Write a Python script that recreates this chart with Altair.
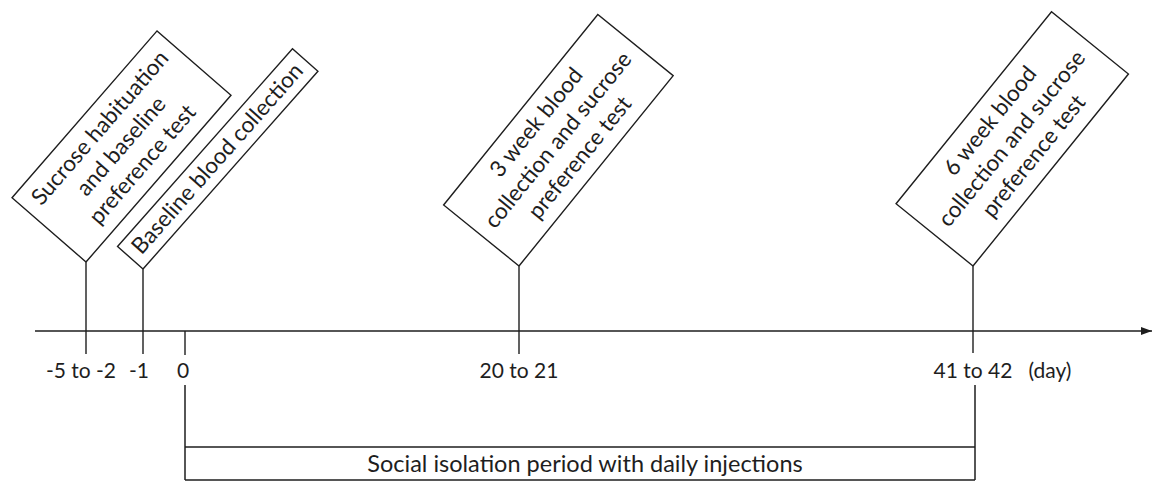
import math
import pandas as pd
import altair as alt

FONT = "Lato"
INK = "#1e1e1e"

# ---- event boxes (anchored at the bottom vertex, on top of each tick) ----
box_labels = [
    "Sucrose habituation\nand baseline\npreference test",
    "Baseline blood collection",
    "3 week blood\ncollection and sucrose\npreference test",
    "6 week blood\ncollection and sucrose\npreference test",
]
box_anchor_x = [86, 143, 519, 973]
box_anchor_y = [258, 265, 262, 262]
box_angle = [49, 48.5, 51, 51]
box_length = [221, 264, 245, 247]
box_width = [98, 34, 97, 99]
BOX_FS = 22.5
BOX_LH = 28

# ---- timeline ticks ----
tick_x = [86, 143, 185, 519, 973]
tick_top = [258, 265, 327, 262, 262]
tick_bottom = [350, 350, 351, 350, 349]

# ---- tick labels ----
label_text = ["-5 to -2", "-1", "0", "20 to 21", "41 to 42", "(day)"]
label_x = [81, 139, 183, 519, 973, 1050]
label_y = [374, 374, 374, 374, 374, 374]

# ---- main axis ----
axis_start = [35]
axis_end = [1152]
axis_y = [327]

# ---- isolation period bracket ----
period_text = ["Social isolation period with daily injections"]
period_start = [185]
period_end = [975]
period_top = [381]
period_mid = [443]
period_bottom = [476]

XD = [8, 1153]
YD = [477, 8]


def X(f, **kw):
    return alt.X(f, type="quantitative", scale=alt.Scale(domain=XD, nice=False, zero=False), axis=None, **kw)


def Y(f, **kw):
    return alt.Y(f, type="quantitative", scale=alt.Scale(domain=YD, nice=False, zero=False), axis=None, **kw)


# polygons and text anchors of boxes
poly_rows, centre_rows = [], []
for i, lab in enumerate(box_labels):
    a = math.radians(box_angle[i])
    ux, uy = math.cos(a), -math.sin(a)      # along the box (up-right)
    vx, vy = -math.sin(a), -math.cos(a)     # across the box (up-left)
    bx, by = box_anchor_x[i], box_anchor_y[i]
    L, W = box_length[i], box_width[i]
    pts = [
        (bx, by),
        (bx + L * ux, by + L * uy),
        (bx + L * ux + W * vx, by + L * uy + W * vy),
        (bx + W * vx, by + W * vy),
        (bx, by),
    ]
    for k, (px, py) in enumerate(pts):
        poly_rows.append({"box": i, "k": k, "x": px, "y": py})
    n = lab.count("\n") + 1
    shift = (n - 1) / 2 * BOX_LH  # first line sits this far "above" the centre
    cx = bx + L / 2 * ux + W / 2 * vx + shift * vx
    cy = by + L / 2 * uy + W / 2 * vy + shift * vy
    centre_rows.append({"box": i, "x": cx, "y": cy, "text": lab, "ang": 360 - box_angle[i]})
poly_df = pd.DataFrame(poly_rows)
centre_df = pd.DataFrame(centre_rows)

boxes = alt.Chart(poly_df).mark_line(color=INK, strokeWidth=1.4).encode(
    x=X("x"), y=Y("y"), detail="box:N", order="k:Q"
)
box_text = alt.Chart(centre_df).mark_text(
    font=FONT, fontSize=BOX_FS, color=INK, align="center", baseline="middle",
    lineBreak="\n", lineHeight=BOX_LH,
).encode(x=X("x"), y=Y("y"), text="text:N", angle=alt.Angle("ang:Q", scale=None))

# axis line + arrow
axis_df = pd.DataFrame({"x": axis_start, "x2": axis_end, "y": axis_y})
axis_line = alt.Chart(axis_df).mark_rule(color=INK, strokeWidth=1.5).encode(
    x=X("x"), x2="x2", y=Y("y")
)
arrow = alt.Chart(axis_df).mark_point(
    shape="M-1,-0.36L0,0L-1,0.36Z", filled=True, opacity=1, color=INK, size=484, strokeWidth=0
).encode(x=X("x2"), y=Y("y"))

# ticks
tick_df = pd.DataFrame({"x": tick_x, "y": tick_top, "y2": tick_bottom})
ticks = alt.Chart(tick_df).mark_rule(color=INK, strokeWidth=1.4).encode(
    x=X("x"), y=Y("y"), y2="y2"
)

# tick labels
lab_df = pd.DataFrame({"x": label_x, "y": label_y, "text": label_text})
labels = alt.Chart(lab_df).mark_text(
    font=FONT, fontSize=21, color=INK, align="center", baseline="alphabetic"
).encode(x=X("x"), y=Y("y"), text="text:N")

# bracket
vert_df = pd.DataFrame({"x": [period_start[0], period_end[0]], "y": [period_top[0]] * 2, "y2": [period_bottom[0]] * 2})
verts = alt.Chart(vert_df).mark_rule(color=INK, strokeWidth=1.5).encode(x=X("x"), y=Y("y"), y2="y2")
hor_df = pd.DataFrame({"x": [period_start[0]] * 2, "x2": [period_end[0]] * 2, "y": [period_mid[0], period_bottom[0]]})
hors = alt.Chart(hor_df).mark_rule(color=INK, strokeWidth=1.5).encode(x=X("x"), x2="x2", y=Y("y"))
ptxt_df = pd.DataFrame({
    "x": [585],
    "y": [(period_mid[0] + period_bottom[0]) / 2 + 1],
    "text": period_text,
})
ptxt = alt.Chart(ptxt_df).mark_text(
    font=FONT, fontSize=23.5, color=INK, align="center", baseline="middle"
).encode(x=X("x"), y=Y("y"), text="text:N")

chart = alt.layer(
    axis_line, arrow, ticks, boxes, box_text, labels, verts, hors, ptxt
).properties(width=1145, height=469, padding=0, background="white").configure_view(stroke=None)

chart.save("out.html", embed_options={"renderer": "svg", "actions": False})
